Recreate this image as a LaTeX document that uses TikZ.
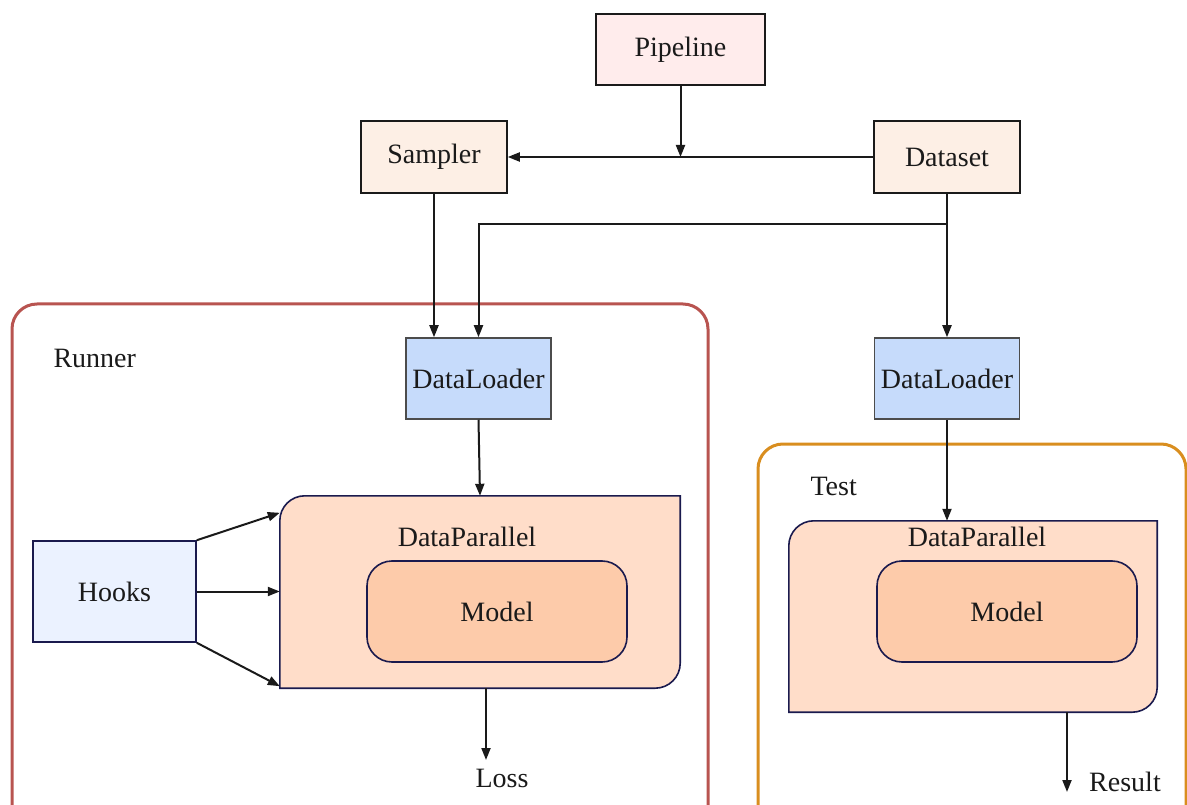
\documentclass[tikz,border=0pt]{standalone}
\usepackage{fontspec}
\setmainfont{Liberation Serif}
\usetikzlibrary{arrows.meta}
\definecolor{inkcol}{HTML}{1A1A1A}
\definecolor{navy}{HTML}{1A1A4E}
\definecolor{pipefill}{HTML}{FFECEC}
\definecolor{srcfill}{HTML}{FDEFE5}
\definecolor{loadfill}{HTML}{C6DBFB}
\definecolor{hookfill}{HTML}{EBF2FF}
\definecolor{dpfill}{HTML}{FFDDC9}
\definecolor{modelfill}{HTML}{FDCBAA}
\definecolor{runnercol}{HTML}{B85450}
\definecolor{testcol}{HTML}{D98E1F}
\begin{document}
\begin{tikzpicture}[x=1pt,y=-1pt,
  every node/.style={font=\fontsize{28}{34}\selectfont, text=inkcol},
  block/.style={draw=inkcol, line width=1.5pt, inner sep=0pt, minimum width=146, minimum height=72},
  loader/.style={block, draw=black!70, fill=loadfill, minimum width=145, minimum height=81},
  model/.style={draw=navy, line width=1.6pt, fill=modelfill, rounded corners=25pt, minimum width=260, minimum height=101},
  dpline/.style={draw=navy, line width=1.6pt, fill=dpfill},
  frame/.style={line width=3pt, rounded corners=25pt},
  arr/.style={draw=inkcol, line width=2pt, -{Triangle[length=12pt,width=9pt]}}]
  \useasboundingbox (0,0) rectangle (1187,805);
  \clip (0,0) rectangle (1187,805);
  % Frames
  \draw[frame, draw=runnercol] (12,840) rectangle (708,304);
  \draw[frame, draw=testcol] (758,840) rectangle (1186,444);
  \node[anchor=west] (runner) at (50,358) {Runner};
  \node[anchor=west] (test) at (807,486) {Test};
  % Top boxes
  \node[block, fill=pipefill, minimum width=169, minimum height=71] (pipeline) at (680.5,49.5) {Pipeline};
  \node[block, fill=srcfill] (sampler) at (434,157) {Sampler};
  \node[block, fill=srcfill] (dataset) at (947,157) {Dataset};
  % Loaders
  \node[loader] (loaderrun) at (478.5,378.5) {DataLoader};
  \node[loader] (loadertest) at (947,378.5) {DataLoader};
  % Hooks
  \node[block, draw=navy, fill=hookfill, minimum width=163, minimum height=101] (hooks) at (114.5,591.5) {Hooks};
  % DataParallel shapes
  \foreach \nm/\cx/\cy/\w/\h in {dprun/480/592/400/192, dptest/973/616.5/368/191} {
    \node[inner sep=0pt, minimum width=\w, minimum height=\h] (\nm) at (\cx,\cy) {};
    \draw[dpline] (\nm.south west) -- ([yshift=-25pt]\nm.north west) arc[start angle=180,end angle=90,radius=25pt]
      -- (\nm.north east) -- ([yshift=25pt]\nm.south east) arc[start angle=0,end angle=-90,radius=25pt] -- cycle;
  }
  \node (dprunlabel) at (467,537) {DataParallel};
  \node (dptestlabel) at (977,537) {DataParallel};
  \node[model] (modelrun) at (497,611.5) {Model};
  \node[model] (modeltest) at (1007,611.5) {Model};
  % Outputs
  \node (loss) at (502,778) {Loss};
  \node (result) at (1125,782) {Result};
  \coordinate (lossend) at (486,760);
  \coordinate (resultend) at (1067,792);
  % Arrows
  \coordinate (join) at (pipeline.south |- dataset.west);
  \coordinate (split) at (dataset.south |- 0,224);
  \draw[arr] (pipeline.south) -- (join);
  \draw[arr] (dataset.west) -- (sampler.east);
  \draw[arr] (sampler.south) -- (sampler.south |- loaderrun.north);
  \draw[arr] (dataset.south) -- (loadertest.north);
  \draw[arr] (split) -| (loaderrun.north);
  \draw[arr] (loaderrun.south) -- (dprun.north);
  \draw[arr] (loadertest.south) -- (loadertest.south |- dptest.north);
  \draw[arr] (hooks.north east) -- ([yshift=-17pt]dprun.north west);
  \draw[arr] (hooks.east) -- (hooks.east -| dprun.west);
  \draw[arr] (hooks.south east) -- ([yshift=2pt]dprun.south west);
  \draw[arr] (lossend |- dprun.south) -- (lossend);
  \draw[arr] (resultend |- dptest.south) -- (resultend);
\end{tikzpicture}
\end{document}
